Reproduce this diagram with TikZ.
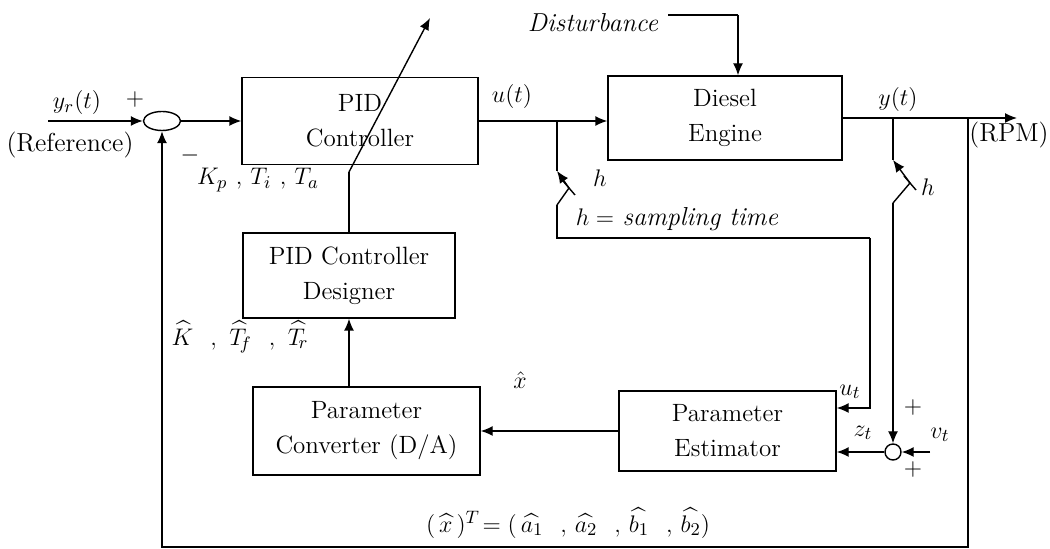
\documentclass[tikz,border=0pt]{standalone}
\usepackage{amsmath,amssymb}
\usepackage{tikz}
\usetikzlibrary{arrows.meta,shapes.geometric,calc}
\tikzset{block/.style={draw,rectangle,line width=0.7pt,align=center,
      font=\fontsize{12.5}{17.5}\selectfont},
    sumell/.style={draw,ellipse,line width=0.7pt,inner sep=0pt,
      minimum width=18.5pt,minimum height=9.5pt},
    sumcirc/.style={draw,circle,line width=0.7pt,inner sep=0pt,minimum size=8pt},
    lbl/.style={inner sep=1pt,font=\fontsize{13}{15}\selectfont},
    arr/.style={-{Latex[length=6pt,width=5pt]}},
    wire/.style={line width=0.7pt}}

\begin{document}
\begin{tikzpicture}[x=0.5pt,y=-0.5pt,wire]
\useasboundingbox (0,0) rectangle (1050,549);
% blocks
\node[sumell] (sum) at (162,121) {};
\node[block,minimum width=118pt,minimum height=43.5pt] (pid) at (360,121) {PID\\ Controller};
\node[block,minimum width=117pt,minimum height=42pt] (eng) at (725,118) {Diesel\\ Engine};
\node[block,minimum width=106pt,minimum height=42.5pt] (des) at (349,275.5) {PID Controller\\ Designer};
\node[block,minimum width=113.5pt,minimum height=44pt] (conv) at (366.5,431) {Parameter\\ Converter (D/A)};
\node[block,minimum width=108.5pt,minimum height=40pt] (est) at (727.5,431) {Parameter\\ Estimator};
\node[sumcirc] (sum2) at (893,452) {};
% labels
\node[lbl] (yr) at (77,103) {$y_r(t)$};
\node[lbl] (pl1) at (135,100) {$+$};
\node[lbl] (ref) at (70,145) {(Reference)};
\node[lbl] (mi1) at (190,156) {$-$};
\node[lbl] (kp) at (258,180) {$K_p\ ,\,T_i\ ,\,T_a$};
\node[lbl] (ut) at (512,97) {$u(t)$};
\node[lbl] (yt) at (898,100) {$y(t)$};
\node[lbl] (rpm) at (1009,135) {(RPM)};
\node[lbl] (dist) at (593,23) {\textit{Disturbance}};
\node[lbl] (h1) at (600,178) {$h$};
\node[lbl] (h2) at (928,187) {$h$};
\node[lbl] (hs) at (677,219) {$h=$ \textit{sampling time}};
\node[lbl] (kh) at (240,337) {$\widehat{K}\ \ ,\ \widehat{T}_{\!f}\ \ ,\ \widehat{T}_{\!r}$};
\node[lbl] (xh) at (520,380) {$\hat{x}$};
\node[lbl] (ul) at (850,392) {$u_t$};
\node[lbl] (zl) at (863,433) {$z_t$};
\node[lbl] (vl) at (940,435) {$v_t$};
\node[lbl] (pl2) at (913,408) {$+$};
\node[lbl] (pl3) at (913,470) {$+$};
\node[lbl] (form) at (568,523) {$(\,\widehat{x}\,)^{T}\!=(\,\widehat{a_1}\ \ ,\,\widehat{a_2}\ \ ,\,\widehat{b_1}\ \ ,\,\widehat{b_2})$};
% points
\coordinate (in) at (48,121);
\coordinate (ub) at (557,121);
\coordinate (a1) at (557,171);
\coordinate (c1) at (569,188);
\coordinate (b1) at (557,205);
\coordinate (s1) at (557,238);
\coordinate (s2) at (870,238);
\coordinate (s3) at (870,408);
\coordinate (yb) at (893,118);
\coordinate (a2) at (893,160);
\coordinate (c2) at (910,183);
\coordinate (b2) at (893,203);
\coordinate (fb) at (968,118);
\coordinate (out) at (1017,118);
\coordinate (bot) at (968,547);
\coordinate (d1) at (668,15);
\coordinate (d2) at (738,15);
\coordinate (tb) at (349,172);
\coordinate (tip) at (430,18);
\coordinate (vin) at (930,452);
% forward path
\draw[arr] (in) -- (sum.west);
\draw[arr] (sum.east) -- (sum.east -| pid.west);
\draw[arr] (pid.east) -- (pid.east -| eng.west);
\draw[arr] (eng.east |- yb) -- (out);
\draw (d1) -- (d2);
\draw[arr] (d2) -- (d2 |- eng.north);
% tuning
\draw (des.north) -- (tb);
\draw[arr] (tb) -- (tip);
\draw[arr] (conv.north -| des.south) -- (des.south);
\draw[arr] (est.west) -- (est.west -| conv.east);
% samplers
\draw (ub) -- (a1);
\draw[arr] (c1) -- (a1);
\draw (b1) -- (c1);
\draw ($(c1)+(-6,-7)$) -- ($(c1)+(6,7)$);
\draw (b1) -- (s1) -- (s2);
\draw[arr] (s2) -- (s3) -- (s3 -| est.east);
\draw (yb) -- (a2);
\draw[arr] (c2) -- (a2);
\draw (b2) -- (c2);
\draw ($(c2)+(-6,-7)$) -- ($(c2)+(6,7)$);
\draw[arr] (b2) -- (sum2.north);
\draw[arr] (vin) -- (sum2.east);
\draw[arr] (sum2.west) -- (sum2.west -| est.east);
% feedback
\draw[arr] (fb) -- (bot) -- (bot -| sum.south) -- (sum.south);
\end{tikzpicture}
\end{document}
